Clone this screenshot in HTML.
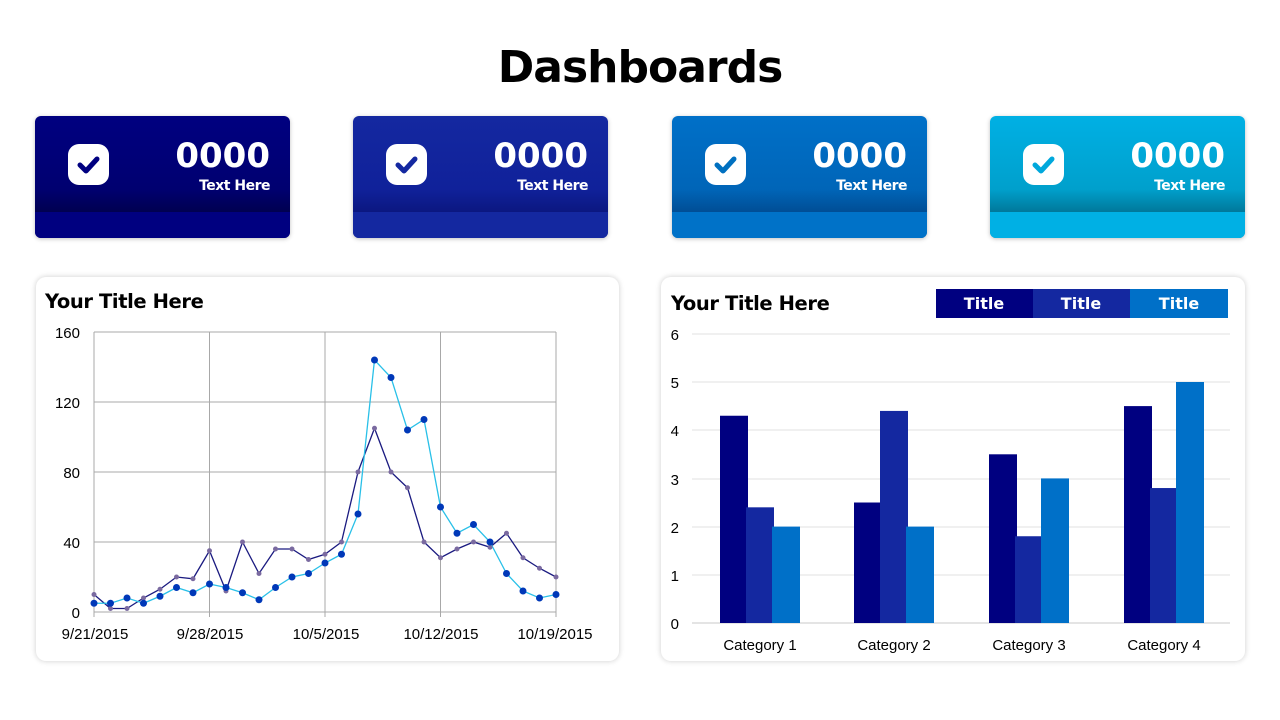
<!DOCTYPE html>
<html><head><meta charset="utf-8"><style>
body{margin:0;width:1280px;height:720px;background:#fff;font-family:"Liberation Sans","DejaVu Sans",sans-serif;position:relative;overflow:hidden}
h1{position:absolute;top:42px;left:0;width:1280px;text-align:center;margin:0;font-size:44px;font-weight:bold;color:#000;font-family:"DejaVu Sans","Liberation Sans",sans-serif;letter-spacing:-1px}
.card{position:absolute;top:116px;width:255px;height:122px;border-radius:6px;overflow:hidden;box-shadow:0 1px 4px rgba(0,0,0,.25)}
.card .band{position:absolute;left:0;right:0;bottom:0;height:26px}
.card .ic{position:absolute;left:33px;top:28px;width:41px;height:41px;background:#fff;border-radius:11px}
.card .num{position:absolute;right:20px;top:20px;color:#fff;font-size:34px;font-weight:bold;font-family:"DejaVu Sans",sans-serif}
.card .t{position:absolute;right:20px;top:62px;color:#fff;font-size:14px;font-weight:bold;font-family:"DejaVu Sans",sans-serif;letter-spacing:-.5px}
.panel{position:absolute;top:277px;height:384px;border-radius:10px;box-shadow:0 0 6px rgba(0,0,0,.2);background:#fff}
.pt{position:absolute;font-size:19.5px;font-weight:bold;font-family:"DejaVu Sans",sans-serif;letter-spacing:-.4px}
</style></head><body>
<h1>Dashboards</h1>

<div class="card" style="left:35px;background:linear-gradient(#000080 0%,#000070 60%,#000050 96px)"><div class="band" style="background:#000080"></div><div class="ic"><svg width="41" height="41"><path d="M12 21 L18 27 L29 15" stroke="#000080" stroke-width="5" fill="none" stroke-linecap="round" stroke-linejoin="round"/></svg></div><div class="num">0000</div><div class="t">Text Here</div></div>
<div class="card" style="left:353px;background:linear-gradient(#1428a0 0%,#10219a 60%,#0b1780 96px)"><div class="band" style="background:#1428a0"></div><div class="ic"><svg width="41" height="41"><path d="M12 21 L18 27 L29 15" stroke="#1428a0" stroke-width="5" fill="none" stroke-linecap="round" stroke-linejoin="round"/></svg></div><div class="num">0000</div><div class="t">Text Here</div></div>
<div class="card" style="left:672px;background:linear-gradient(#0070c8 0%,#0065b8 60%,#004e95 96px)"><div class="band" style="background:#0072c8"></div><div class="ic"><svg width="41" height="41"><path d="M12 21 L18 27 L29 15" stroke="#0070c0" stroke-width="5" fill="none" stroke-linecap="round" stroke-linejoin="round"/></svg></div><div class="num">0000</div><div class="t">Text Here</div></div>
<div class="card" style="left:990px;background:linear-gradient(#00b0e4 0%,#00a0cc 60%,#00789a 96px)"><div class="band" style="background:#00b0e4"></div><div class="ic"><svg width="41" height="41"><path d="M12 21 L18 27 L29 15" stroke="#00a8dc" stroke-width="5" fill="none" stroke-linecap="round" stroke-linejoin="round"/></svg></div><div class="num">0000</div><div class="t">Text Here</div></div>

<div class="panel" style="left:36px;width:583px"></div>
<div class="pt" style="left:45px;top:290px">Your Title Here</div>
<div class="panel" style="left:661px;width:584px"></div>
<div class="pt" style="left:671px;top:292px">Your Title Here</div>

<svg style="position:absolute;left:0;top:0" width="1280" height="720" font-family="Liberation Sans, sans-serif" font-size="15">
<g stroke="#a8a8a8" stroke-width="1">
<line x1="94" y1="332" x2="556" y2="332"/><line x1="94" y1="402" x2="556" y2="402"/><line x1="94" y1="472" x2="556" y2="472"/><line x1="94" y1="542" x2="556" y2="542"/><line x1="94" y1="612" x2="556" y2="612"/>
<line x1="94" y1="332" x2="94" y2="617"/><line x1="209.5" y1="332" x2="209.5" y2="617"/><line x1="325" y1="332" x2="325" y2="617"/><line x1="440.5" y1="332" x2="440.5" y2="617"/><line x1="556" y1="332" x2="556" y2="617"/>
</g>
<g text-anchor="end"><text x="80" y="338">160</text><text x="80" y="408">120</text><text x="80" y="478">80</text><text x="80" y="548">40</text><text x="80" y="618">0</text></g>
<g text-anchor="middle"><text x="95" y="639">9/21/2015</text><text x="210" y="639">9/28/2015</text><text x="326" y="639">10/5/2015</text><text x="441" y="639">10/12/2015</text><text x="555" y="639">10/19/2015</text></g>
<g id="lines"></g>
<g stroke="#e0e0e0"><line x1="692" y1="334" x2="1230" y2="334"/><line x1="692" y1="382" x2="1230" y2="382"/><line x1="692" y1="430" x2="1230" y2="430"/><line x1="692" y1="479" x2="1230" y2="479"/><line x1="692" y1="527" x2="1230" y2="527"/><line x1="692" y1="575" x2="1230" y2="575"/><line x1="692" y1="623" x2="1230" y2="623" stroke="#c8c8c8"/></g>
<g text-anchor="end"><text x="679" y="340">6</text><text x="679" y="388">5</text><text x="679" y="436">4</text><text x="679" y="485">3</text><text x="679" y="533">2</text><text x="679" y="581">1</text><text x="679" y="629">0</text></g>
<g id="bars"></g>
<g text-anchor="middle"><text x="760" y="650">Category 1</text><text x="894" y="650">Category 2</text><text x="1029" y="650">Category 3</text><text x="1164" y="650">Category 4</text></g>
<rect x="936" y="289" width="97" height="29" fill="#000080"/><rect x="1033" y="289" width="97" height="29" fill="#1428a0"/><rect x="1130" y="289" width="98" height="29" fill="#0070c8"/>
<g fill="#fff" font-weight="bold" font-size="16" text-anchor="middle" font-family="DejaVu Sans, sans-serif"><text x="984" y="309">Title</text><text x="1081" y="309">Title</text><text x="1179" y="309">Title</text></g>
</svg>
<script>
var A=[5,5,8,5,9,14,11,16,14,11,7,14,20,22,28,33,56,144,134,104,110,60,45,50,40,22,12,8,10];
var B=[10,2,2,8,13,20,19,35,12,40,22,36,36,30,33,40,80,105,80,71,40,31,36,40,37,45,31,25,20];
function X(i){return 94+i*16.5} function Y(v){return 612-v*1.75}
var s='';
function pl(d,c){return '<polyline fill="none" stroke="'+c+'" stroke-width="1.3" points="'+d.map(function(v,i){return X(i)+','+Y(v)}).join(' ')+'"/>'}
s+=pl(B,'#1a1a80')+pl(A,'#29c0e8');
B.forEach(function(v,i){s+='<circle cx="'+X(i)+'" cy="'+Y(v)+'" r="2.5" fill="#7a6aa0"/>'});
A.forEach(function(v,i){s+='<circle cx="'+X(i)+'" cy="'+Y(v)+'" r="3.5" fill="#0038b8"/>'});
document.getElementById('lines').innerHTML=s;
var D=[[4.3,2.4,2],[2.5,4.4,2],[3.5,1.8,3],[4.5,2.8,5]],C=['#000080','#1428a0','#0070c8'],cx=[760,894,1029,1164],b='';
D.forEach(function(r,k){r.forEach(function(v,j){var h=v*48.2;b+='<rect x="'+(cx[k]-40+j*26)+'" y="'+(623-h)+'" width="28" height="'+h+'" fill="'+C[j]+'"/>'})});
document.getElementById('bars').innerHTML=b;
</script>
</body></html>
